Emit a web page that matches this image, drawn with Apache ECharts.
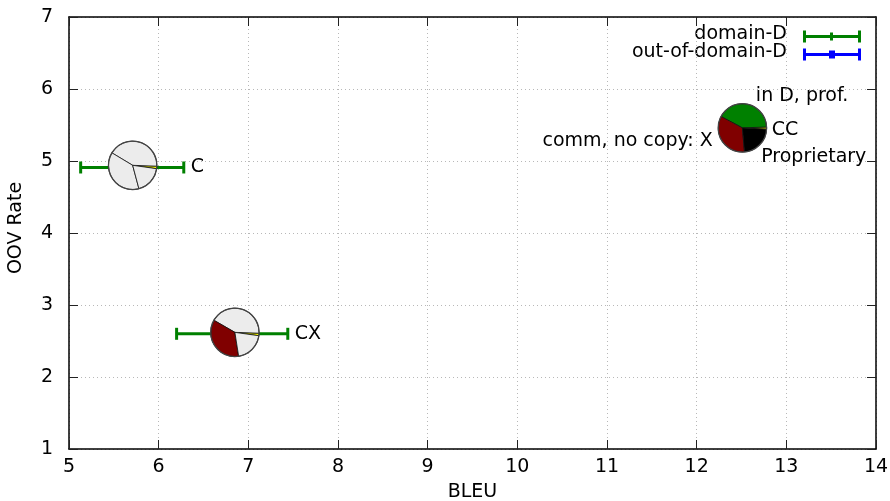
<!DOCTYPE html>
<html><head><meta charset="utf-8">
<script src="https://cdn.jsdelivr.net/npm/echarts@6/dist/echarts.min.js"></script>
<style>html,body{margin:0;padding:0;background:#fff}#c{width:890px;height:501px}</style>
</head><body><div id="c"></div>
<script>
// ---- data ----
const xMin = 5, xMax = 14, xStep = 1;
const yMin = 1, yMax = 7, yStep = 1;
const pointNames = ['C', 'CX', 'CC'];
const pieX = [5.71, 6.85, 12.51];
const pieY = [4.94, 2.62, 5.46];
// domain-D error bars (horizontal)
const barY = [4.91, 2.60];
const barLow = [5.13, 6.20];
const barHigh = [6.28, 7.44];
const barMid = [5.71, 6.85];
// out-of-domain-D error bars: none visible
const oodBars = [];
// point name label anchors
const nameX = [6.28, 7.44, 12.76];
const nameY = [4.91, 2.60, 5.43];
// pie slices (degrees); categories: CC, in D prof., comm no copy X, Proprietary
const sliceCats = ['CC', 'in D, prof.', 'comm, no copy: X', 'Proprietary'];
const sliceStart = [-8, -8, -3];
const slicesC  = [6, 151, 136, 67];
const slicesCX = [6, 152, 129, 73];
const slicesCC = [5, 150, 123, 82];
const activeC  = [1, 0, 0, 0];
const activeCX = [1, 0, 1, 0];
const activeCC = [1, 1, 1, 1];
// slice annotation labels
const annText = ['in D, prof.', 'comm, no copy: X', 'Proprietary'];
const annX = [12.66, 12.18, 12.72];
const annY = [5.90, 5.27, 5.06];

// ---- styles ----
const FONT = '19px "DejaVu Sans"';
const catColors = ['#ffff00', '#008000', '#800000', '#000000'];
const inactive = '#ececec';
const pieRadius = 0.27; // x data units
const annAlign = ['left', 'right', 'left'];
const allSlices = [slicesC, slicesCX, slicesCC];
const allActive = [activeC, activeCX, activeCC];

const chart = echarts.init(document.getElementById('c'), null, {renderer: 'canvas'});
const axisCommon = {
  type: 'value',
  axisLine: {show: true, onZero: false, lineStyle: {color: '#000', width: 1.5}},
  axisTick: {show: true, inside: true, length: 9, lineStyle: {color: '#222', width: 1}},
  minorTick: {show: false}
};
const option = {
  animation: false,
  backgroundColor: '#fff',
  textStyle: {fontFamily: 'DejaVu Sans'},
  grid: {left: 69, right: 14, top: 17, bottom: 52, containLabel: false, outerBoundsMode: 'none'},
  xAxis: [
    Object.assign({}, axisCommon, {
      position: 'bottom', min: xMin, max: xMax, interval: xStep,
      axisLabel: {color: '#000', fontSize: 19, margin: 9, fontFamily: 'DejaVu Sans'},
      splitLine: {show: true, lineStyle: {color: '#b8b8b8', type: [1, 3], width: 1}},
      name: 'BLEU', nameLocation: 'middle', nameGap: 34,
      nameTextStyle: {color: '#000', fontSize: 19, fontFamily: 'DejaVu Sans'}
    }),
    Object.assign({}, axisCommon, {
      position: 'top', min: xMin, max: xMax, interval: xStep,
      axisLabel: {show: false}, splitLine: {show: false}
    })
  ],
  yAxis: [
    Object.assign({}, axisCommon, {
      position: 'left', min: yMin, max: yMax, interval: yStep,
      axisLabel: {color: '#000', fontSize: 19, margin: 16, fontFamily: 'DejaVu Sans'},
      splitLine: {show: true, lineStyle: {color: '#b8b8b8', type: [1, 3], width: 1}},
      name: 'OOV Rate', nameLocation: 'middle', nameGap: 43,
      nameTextStyle: {color: '#000', fontSize: 19, fontFamily: 'DejaVu Sans', padding: [0, 0, 0, 10]}
    }),
    Object.assign({}, axisCommon, {
      position: 'right', min: yMin, max: yMax, interval: yStep,
      axisLabel: {show: false}, splitLine: {show: false}
    })
  ],
  series: [
    {
      name: 'domain-D', type: 'custom', xAxisIndex: 0, yAxisIndex: 0, z: 2,
      data: barY.map((y, i) => [barLow[i], barHigh[i], y, barMid[i]]),
      renderItem: function (params, api) {
        const a = api.coord([api.value(0), api.value(2)]);
        const b = api.coord([api.value(1), api.value(2)]);
        const m = api.coord([api.value(3), api.value(2)]);
        const st = {stroke: '#008000', lineWidth: 3};
        return {type: 'group', children: [
          {type: 'line', shape: {x1: a[0], y1: a[1], x2: b[0], y2: b[1]}, style: st},
          {type: 'line', shape: {x1: a[0], y1: a[1] - 6, x2: a[0], y2: a[1] + 6}, style: st},
          {type: 'line', shape: {x1: b[0], y1: b[1] - 6, x2: b[0], y2: b[1] + 6}, style: st},
          {type: 'line', shape: {x1: m[0], y1: m[1] - 4, x2: m[0], y2: m[1] + 4}, style: st}
        ]};
      }
    },
    {
      name: 'out-of-domain-D', type: 'custom', z: 2, data: oodBars,
      renderItem: function () { return null; }
    },
    {
      name: 'pies', type: 'custom', z: 5, clip: false,
      data: pieX.map((x, i) => [x, pieY[i], i]),
      renderItem: function (params, api) {
        const i = api.value(2);
        const c = api.coord([api.value(0), api.value(1)]);
        const r = api.size([pieRadius, 0])[0];
        const sl = allSlices[i], act = allActive[i];
        let a = sliceStart[i];
        const children = [];
        for (let k = 0; k < sl.length; k++) {
          const a1 = a, a2 = a + sl[k];
          a = a2;
          children.push({
            type: 'sector',
            shape: {cx: c[0], cy: c[1], r0: 0, r: r,
                    startAngle: -a2 * Math.PI / 180, endAngle: -a1 * Math.PI / 180, clockwise: true},
            style: {fill: act[k] ? catColors[k] : inactive, stroke: '#111', lineWidth: 0.8}
          });
        }
        children.push({type: 'circle', shape: {cx: c[0], cy: c[1], r: r},
          style: {fill: 'none', stroke: '#444', lineWidth: 1.3}});
        return {type: 'group', children: children};
      }
    },
    {
      name: 'names', type: 'custom', z: 6, clip: false,
      data: nameX.map((x, i) => [x, nameY[i], i]),
      renderItem: function (params, api) {
        const p = api.coord([api.value(0), api.value(1)]);
        return {type: 'text', x: p[0] + 7, y: p[1],
          style: {text: pointNames[api.value(2)], font: FONT, fill: '#000',
                  textAlign: 'left', textVerticalAlign: 'middle'}};
      }
    },
    {
      name: 'annotations', type: 'custom', z: 6, clip: false,
      data: annX.map((x, i) => [x, annY[i], i]),
      renderItem: function (params, api) {
        const p = api.coord([api.value(0), api.value(1)]);
        const i = api.value(2);
        return {type: 'text', x: p[0], y: p[1],
          style: {text: annText[i], font: FONT, fill: '#000',
                  textAlign: annAlign[i], textVerticalAlign: 'middle'}};
      }
    }
  ],
  graphic: [
    {type: 'text', right: 890 - 787, top: 25, style: {text: 'domain-D', font: FONT, fill: '#000'}},
    {type: 'text', right: 890 - 787, top: 43, style: {text: 'out-of-domain-D', font: FONT, fill: '#000'}},
    {type: 'group', left: 802, top: 28, children: [
      {type: 'line', shape: {x1: 0, y1: 6, x2: 55, y2: 6}, style: {stroke: '#008000', lineWidth: 3}},
      {type: 'line', shape: {x1: 0, y1: 0, x2: 0, y2: 12}, style: {stroke: '#008000', lineWidth: 3}},
      {type: 'line', shape: {x1: 55, y1: 0, x2: 55, y2: 12}, style: {stroke: '#008000', lineWidth: 3}},
      {type: 'line', shape: {x1: 27, y1: 2, x2: 27, y2: 10}, style: {stroke: '#008000', lineWidth: 3}}
    ]},
    {type: 'group', left: 802, top: 46, children: [
      {type: 'line', shape: {x1: 0, y1: 6, x2: 55, y2: 6}, style: {stroke: '#0000ff', lineWidth: 3}},
      {type: 'line', shape: {x1: 0, y1: 0, x2: 0, y2: 12}, style: {stroke: '#0000ff', lineWidth: 3}},
      {type: 'line', shape: {x1: 55, y1: 0, x2: 55, y2: 12}, style: {stroke: '#0000ff', lineWidth: 3}},
      {type: 'line', shape: {x1: 26, y1: 2, x2: 26, y2: 10}, style: {stroke: '#0000ff', lineWidth: 3}},
      {type: 'line', shape: {x1: 29, y1: 2, x2: 29, y2: 10}, style: {stroke: '#0000ff', lineWidth: 3}}
    ]}
  ]
};
chart.setOption(option);
</script>
</body></html>
